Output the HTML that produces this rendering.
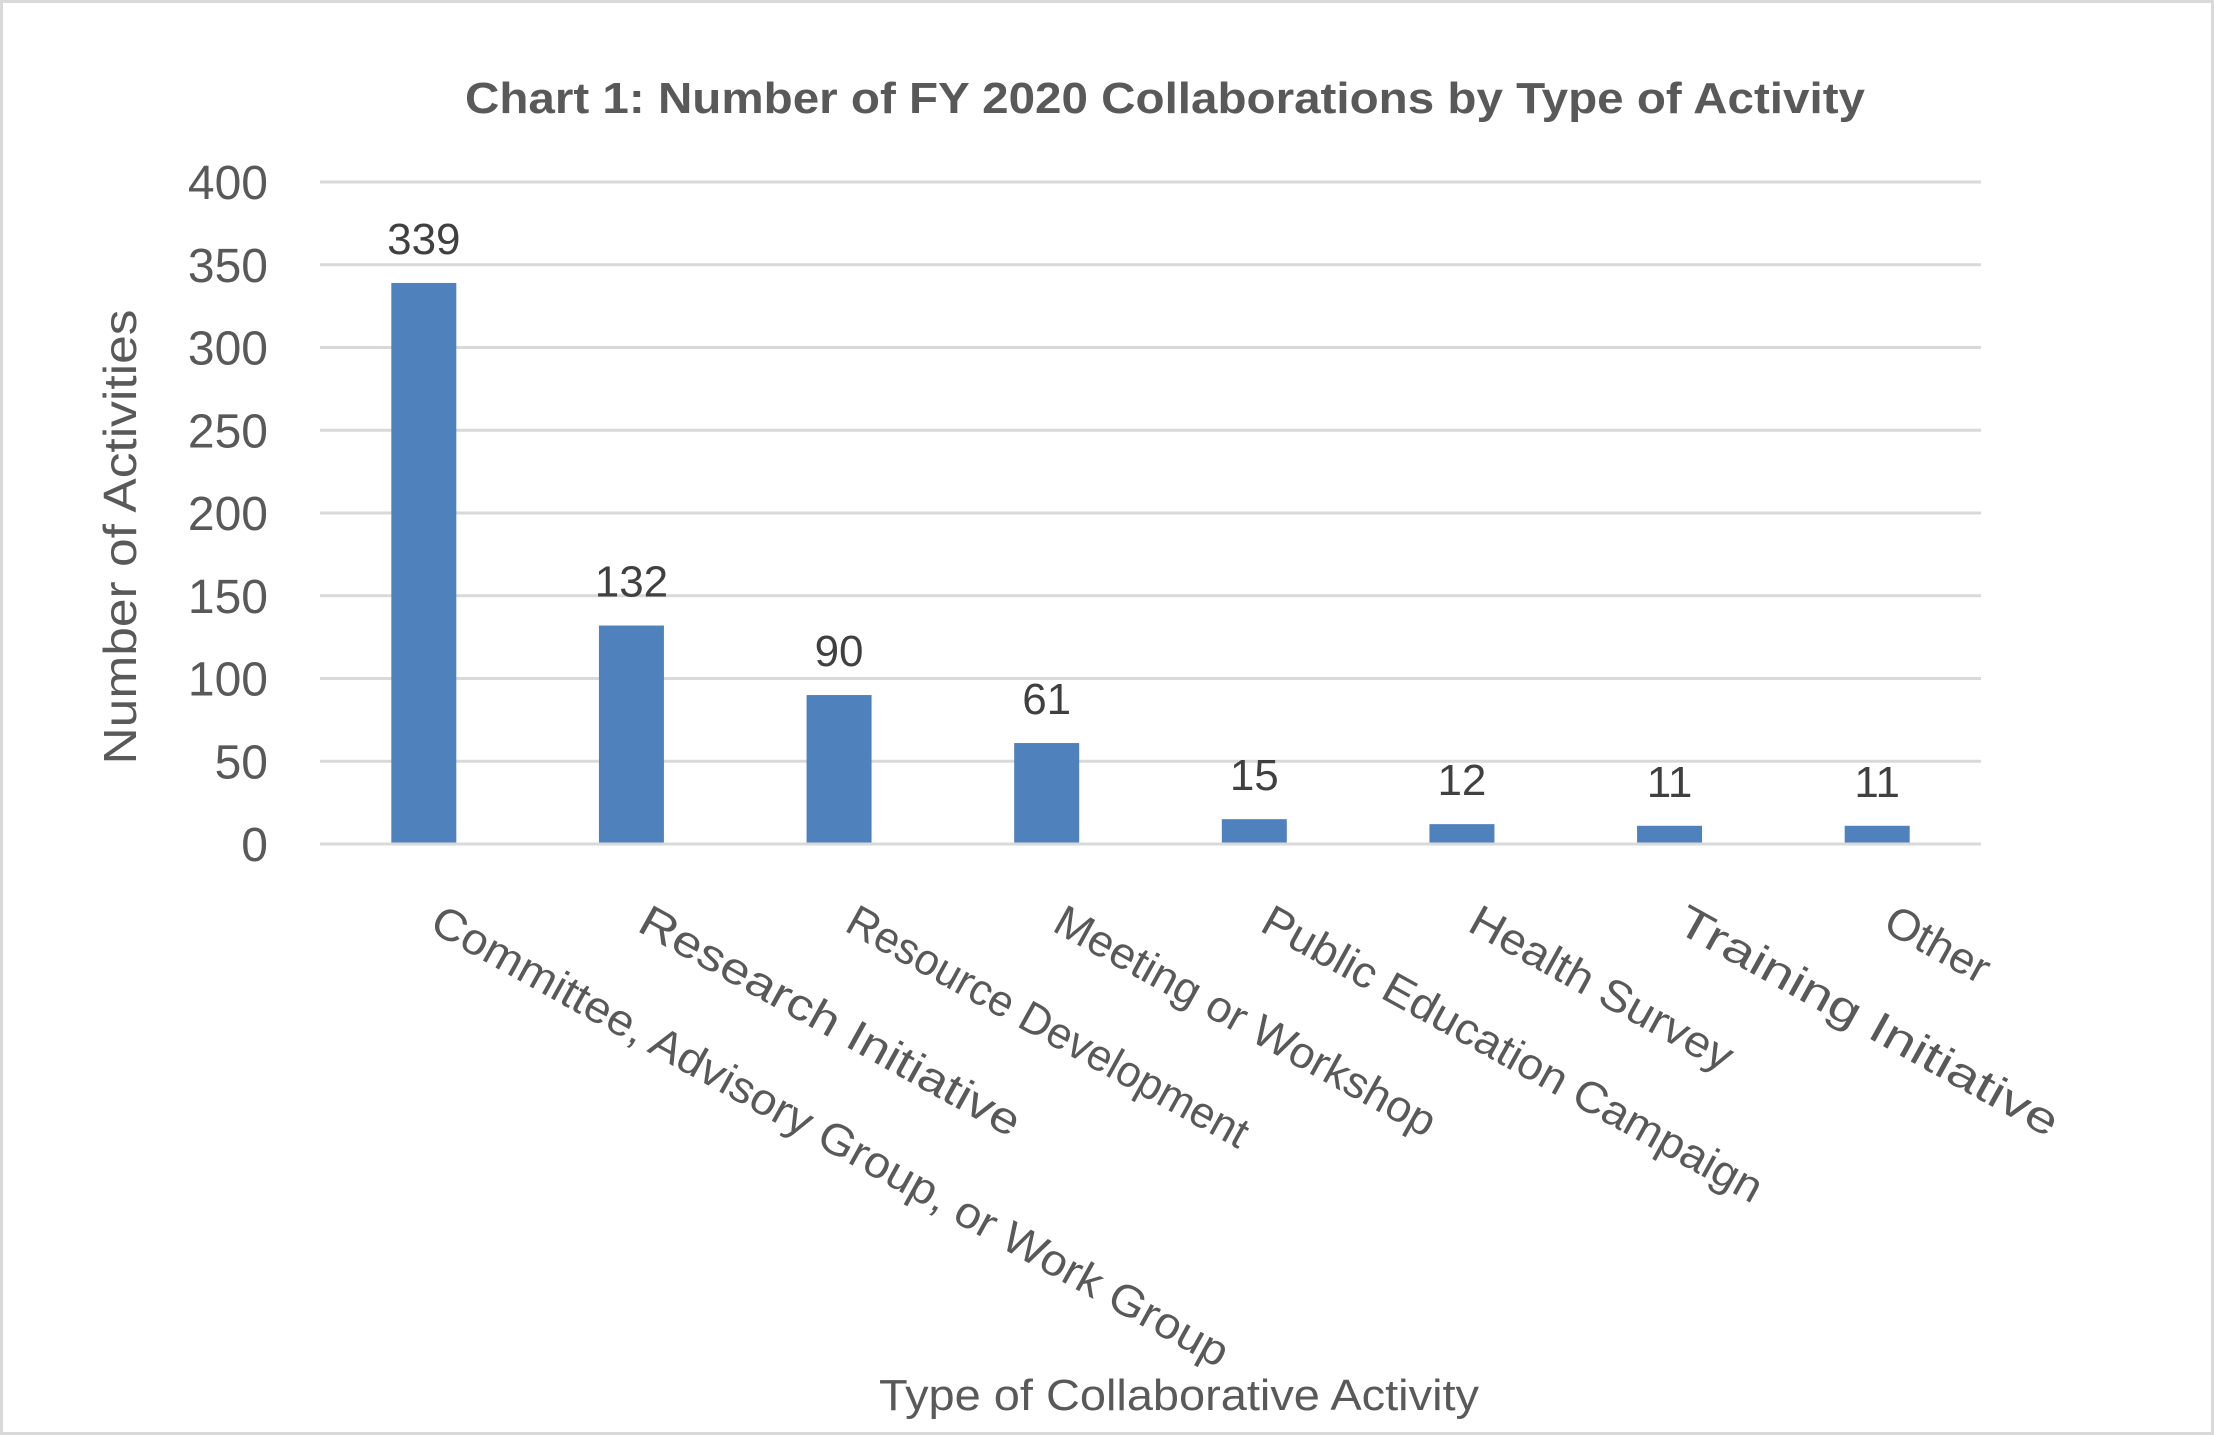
<!DOCTYPE html>
<html><head><meta charset="utf-8"><style>
html,body{margin:0;padding:0;background:#fff;}
svg{display:block;font-family:"Liberation Sans",sans-serif;}
</style></head><body>
<svg id="chart" width="2214" height="1435" viewBox="0 0 2214 1435" xmlns="http://www.w3.org/2000/svg">
<rect x="1.5" y="1.5" width="2211" height="1432" fill="#fff" stroke="#d9d9d9" stroke-width="3"/>
<text x="1165" y="113" text-anchor="middle" font-size="44" font-weight="bold" fill="#595959" textLength="1400" lengthAdjust="spacingAndGlyphs">Chart 1: Number of FY 2020 Collaborations by Type of Activity</text>
<text transform="translate(136,537) rotate(-90)" text-anchor="middle" font-size="46" fill="#595959" textLength="455" lengthAdjust="spacingAndGlyphs">Number of Activities</text>
<text x="1179" y="1410" text-anchor="middle" font-size="44" fill="#595959" textLength="600" lengthAdjust="spacingAndGlyphs">Type of Collaborative Activity</text>
<g id="grid"></g><g id="bars"></g><g id="labels"></g>
</svg>
<script>
const categories = ["Committee, Advisory Group, or Work Group","Research Initiative","Resource Development","Meeting or Workshop","Public Education Campaign","Health Survey","Training Initiative","Other"];
const values = [339,132,90,61,15,12,11,11];
const yTicks = [0,50,100,150,200,250,300,350,400];
const NS="http://www.w3.org/2000/svg";
const L=320,R=1981,T=182,B=844,yMax=400;
const y=v=>B-(v/yMax)*(B-T);
const band=(R-L)/categories.length;
const xc=i=>L+band*(i+0.5);
const barW=65;
function mk(tag,attrs,parent,txt){const e=document.createElementNS(NS,tag);for(const k in attrs)e.setAttribute(k,attrs[k]);if(txt!==undefined)e.textContent=txt;parent.appendChild(e);return e;}
const grid=document.getElementById('grid'),bars=document.getElementById('bars'),labels=document.getElementById('labels');
yTicks.forEach(t=>{
  const ln=mk('line',{x1:L,x2:R,y1:y(t),y2:y(t),stroke:'#d9d9d9','stroke-width':3},grid);
  
  
  const tx=mk('text',{x:268,y:y(t)+17,'text-anchor':'end','font-size':48,fill:'#595959'},grid,String(t));
  
  
});
values.forEach((v,i)=>{
  const r=mk('rect',{x:xc(i)-barW/2,y:y(v),width:barW,height:B-y(v)-1.5,fill:'#4f81bd'},bars);
  
  
  const d=mk('text',{x:xc(i),y:y(v)-29,'text-anchor':'middle','font-size':44,fill:'#404040'},labels,String(v));
  
  
  const c=categories[i];
  const cx=xc(i)+4,cy=930;
  const ct=mk('text',{transform:'translate('+cx+','+cy+') rotate(29)','text-anchor':'start','font-size':44,fill:'#595959',textLength:(c.length*22.6).toFixed(0),lengthAdjust:'spacingAndGlyphs'},labels,c);
  
  
});
</script>
</body></html>
